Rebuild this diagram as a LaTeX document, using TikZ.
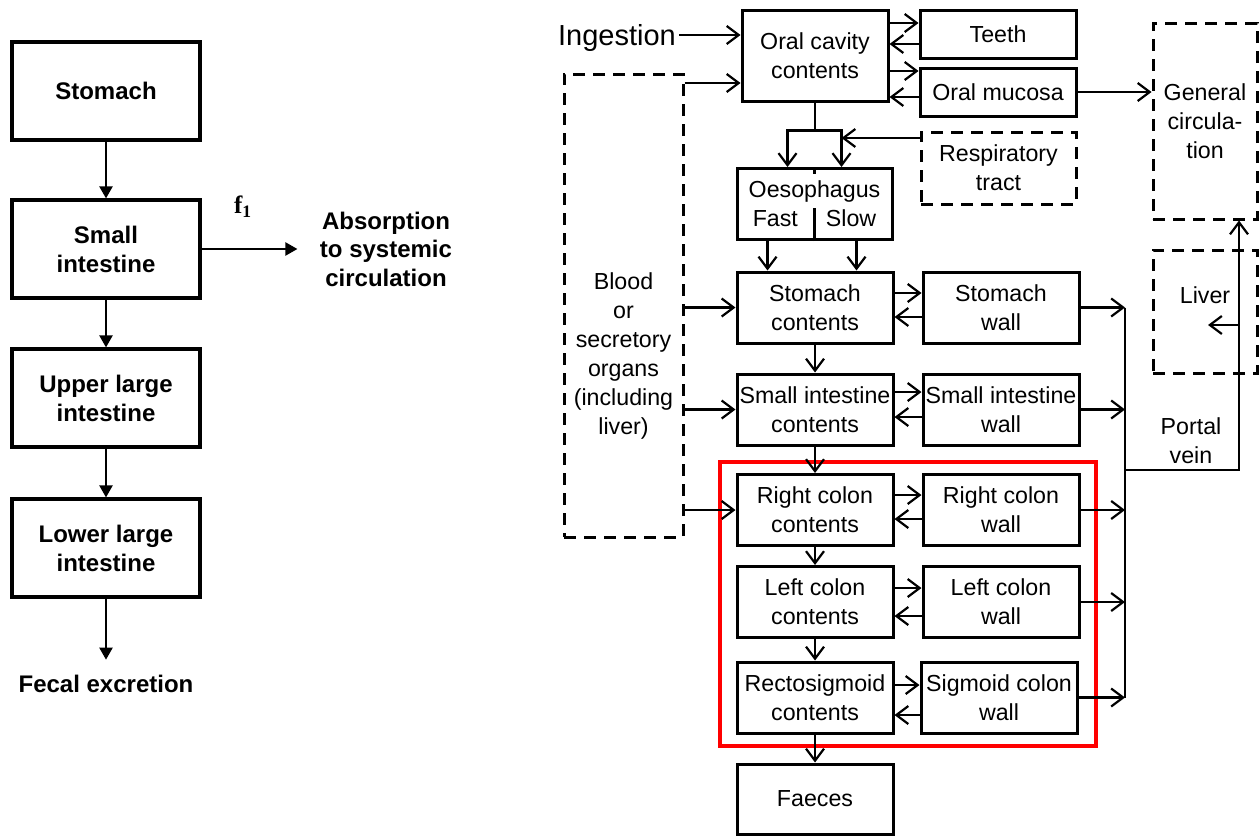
\documentclass[tikz,border=0pt]{standalone}
\usepackage{fontspec}
\setmainfont{Liberation Sans}
\newfontfamily\timesbf{Liberation Serif}
\usetikzlibrary{arrows.meta,positioning,shapes,calc,fit}

\begin{document}
\begin{tikzpicture}[x=1pt, y=-1pt,
    font=\fontsize{23.2}{29}\selectfont,
    block/.style={rectangle, draw, line width=3pt, minimum height=71pt, minimum width=156pt, inner sep=1pt, text centered, align=center},
    leftblock/.style={rectangle, draw, line width=3.2pt, minimum height=98pt, minimum width=188pt, align=center, font=\fontsize{24}{29}\selectfont\bfseries},
    dashbox/.style={rectangle, draw, line width=3pt, dash pattern=on 12pt off 8pt, inner sep=2pt, align=center},
    arr/.style={-{Straight Barb[length=12pt,width=18pt]}, line width=2.2pt},
    tri/.style={-{Triangle[length=12pt,width=13pt]}, line width=2.2pt}]

\useasboundingbox (0,0) rectangle (1259,836);

% left: simple GI model
\node[leftblock] (stomach) at (106,91) {Stomach};
\node[leftblock] (small) at (106,249) {Small\\intestine};
\node[leftblock] (upper) at (106,398) {Upper large\\intestine};
\node[leftblock] (lower) at (106,548) {Lower large\\intestine};
\node[font=\fontsize{24}{29}\selectfont\bfseries] (fecal) at (106,684) {Fecal excretion};
\node[align=center, font=\fontsize{24}{28.5}\selectfont\bfseries] (absorb) at (386,249) {Absorption\\to systemic\\circulation};

\draw[tri] (stomach) -- (small);
\draw[tri] (small) -- (upper);
\draw[tri] (upper) -- (lower);
\draw[tri] (lower) -- ([yshift=12pt]fecal.north);
\draw[tri] (small.east) -- node[pos=0.43, above=27pt, font=\fontsize{25}{25}\selectfont\timesbf\bfseries] (fone) {f\textsubscript{1}} ([xshift=-19pt]absorb.west);

% right: HRTM alimentary tract
\node[font=\fontsize{29}{30}\selectfont] (ingest) at (617,38) {Ingestion};
\node[block, minimum width=146pt, minimum height=91pt] (oc) at (815,55.5) {Oral cavity\\contents};
\node[block, minimum height=48pt] (teeth) at (998,34) {Teeth};
\node[block, minimum height=48pt] (om) at (998,92) {Oral mucosa};
\node[dashbox, minimum width=155pt, minimum height=72pt] (resp) at (998.5,168) {Respiratory\\tract};
\node[dashbox, minimum width=104pt, minimum height=196pt] (gc) at (1205,121) {General\\circula-\\tion};
\node[dashbox, minimum width=104pt, minimum height=123pt, label={[yshift=16.5pt]center:Liver}] (liver) at (1205,311.5) {};
\node[dashbox, minimum width=119pt, minimum height=463pt, label={[align=center, yshift=-50pt]center:Blood\\or\\secretory\\organs\\(including\\liver)}] (blood) at (623.5,305.5) {};

\node[block, minimum width=155pt] (oes) at (814.5,204) {Oesophagus\\Fast\hspace{28pt}Slow};
\node[block] (sc) at (815,307.5) {Stomach\\contents};
\node[block] (sw) at (1001,307.5) {Stomach\\wall};
\node[block] (sic) at (815,409.5) {Small intestine\\contents};
\node[block] (siw) at (1001,409.5) {Small intestine\\wall};
\node[block] (rc) at (815,510) {Right colon\\contents};
\node[block] (rcw) at (1001,510) {Right colon\\wall};
\node[block] (lc) at (815,602) {Left colon\\contents};
\node[block] (lcw) at (1001,602) {Left colon\\wall};
\node[block] (rs) at (815,697.5) {Rectosigmoid\\contents};
\node[block] (scw) at (999,697.5) {Sigmoid colon\\wall};
\node[block, minimum height=70pt] (faeces) at (815,799) {Faeces};
\node[align=center] (portal) at (1191,441) {Portal\\vein};

% colon compartments
\node[draw=red, line width=4pt, fit=(rc)(rcw)(rs)(scw), inner xsep=15.5pt, inner ysep=11.5pt] (colon) {};

% oral cavity
\draw[arr] ([yshift=20.5pt]oc.west -| ingest.east) -- ([yshift=20.5pt]oc.west);
\draw[arr] ([yshift=11pt]teeth.west -| oc.east) -- ([yshift=11pt]teeth.west);
\draw[arr] ([yshift=-10pt]teeth.west) -- ([yshift=-10pt]teeth.west -| oc.east);
\draw[arr] ([yshift=21pt]om.west -| oc.east) -- ([yshift=21pt]om.west);
\draw[arr] ([yshift=-5pt]om.west) -- ([yshift=-5pt]om.west -| oc.east);
\draw[arr] (om.east) -- (om.east -| gc.west);

% secretions from blood
\draw[arr] ([yshift=-27.5pt]oc.west -| blood.east) -- ([yshift=-27.5pt]oc.west);
\draw[arr] (sc.west -| blood.east) -- (sc.west);
\draw[arr] (sic.west -| blood.east) -- (sic.west);
\draw[arr] (rc.west -| blood.east) -- (rc.west);

% oesophagus
\coordinate (split) at ($(oc.south)+(0,28)$);
\coordinate (fastin) at ([xshift=-27pt]oes.north);
\coordinate (slowin) at ([xshift=27pt]oes.north);
\draw[arr] (oc.south) -- (split) -| (fastin);
\draw[arr] (split) -| (slowin);
\draw[arr] ([yshift=30pt]resp.west) -- ([yshift=30pt]resp.west -| slowin);
\draw[line width=2.2pt] (oes.south) -- ++(0,-33);
\draw[line width=2.2pt] (oes.north) -- ++(0,7);
\draw[arr] ([xshift=-47pt]oes.south) -- ([xshift=-47pt]oes.south |- sc.north);
\draw[arr] ([xshift=42pt]oes.south) -- ([xshift=42pt]oes.south |- sc.north);

% transit down the tract
\draw[arr] (sc) -- (sic);
\draw[arr] (sic) -- (rc);
\draw[arr] (rc) -- (lc);
\draw[arr] (lc) -- (rs);
\draw[arr] (rs) -- (faeces);

% contents <-> walls
\draw[arr] ([yshift=14.5pt]sc.east) -- ([yshift=14.5pt]sw.west);
\draw[arr] ([yshift=-9.5pt]sw.west) -- ([yshift=-9.5pt]sc.east);
\draw[arr] ([yshift=17.5pt]sic.east) -- ([yshift=17.5pt]siw.west);
\draw[arr] ([yshift=-7.5pt]siw.west) -- ([yshift=-7.5pt]sic.east);
\draw[arr] ([yshift=15pt]rc.east) -- ([yshift=15pt]rcw.west);
\draw[arr] ([yshift=-9pt]rcw.west) -- ([yshift=-9pt]rc.east);
\draw[arr] ([yshift=14pt]lc.east) -- ([yshift=14pt]lcw.west);
\draw[arr] ([yshift=-14pt]lcw.west) -- ([yshift=-14pt]lc.east);
\draw[arr] ([yshift=12.5pt]rs.east) -- ([yshift=12.5pt]scw.west);
\draw[arr] ([yshift=-17.5pt]scw.west) -- ([yshift=-17.5pt]rs.east);

% portal vein
\coordinate (pvj) at (1125,470);
\coordinate (pvtop) at (1239,470);
\draw[line width=2.2pt] (sw.east -| pvj) -- (scw.east -| pvj);
\draw[arr] (sw.east) -- (sw.east -| pvj);
\draw[arr] (siw.east) -- (siw.east -| pvj);
\draw[arr] (rcw.east) -- (rcw.east -| pvj);
\draw[arr] (lcw.east) -- (lcw.east -| pvj);
\draw[arr] (scw.east) -- (scw.east -| pvj);
\draw[arr] (pvj) -- (pvtop) -- (pvtop |- gc.south);
\draw[arr] ([yshift=-13.5pt]liver.east -| pvtop) -- ([xshift=3pt,yshift=-13.5pt]liver.center);

\end{tikzpicture}
\end{document}
